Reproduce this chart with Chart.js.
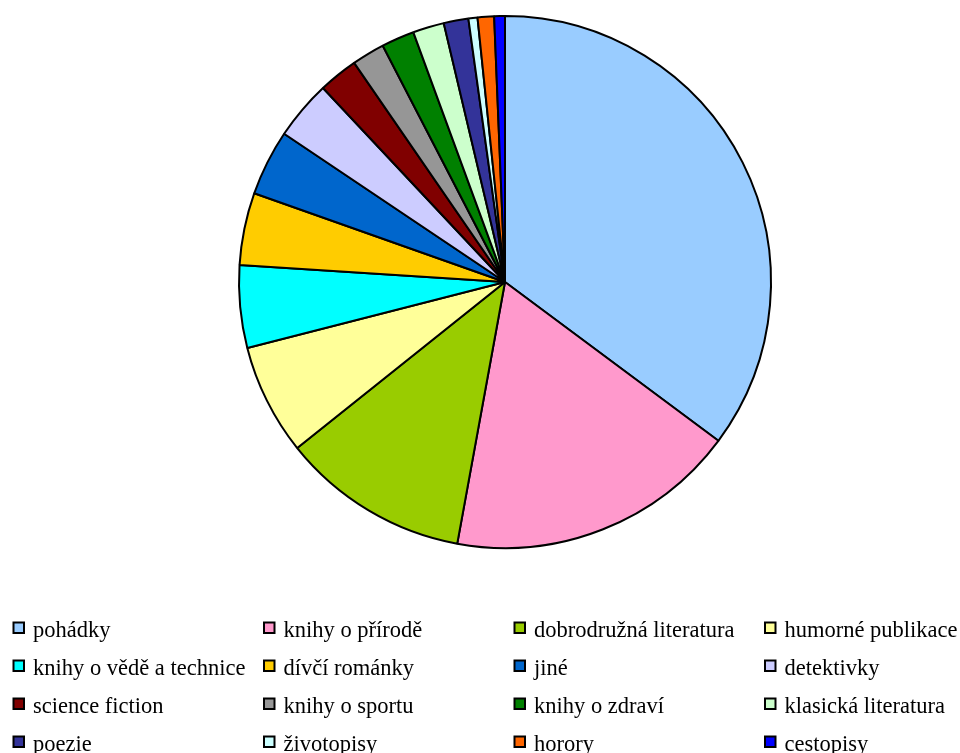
<!DOCTYPE html>
<html>
<head>
<meta charset="utf-8">
<script src="https://cdn.jsdelivr.net/npm/chart.js@4.4.1/dist/chart.umd.min.js"></script>
</head>
<body style="margin:0;padding:0;background:#fff;width:960px;height:753px;overflow:hidden;">
<div style="position:relative;width:960px;height:753px;"><canvas id="c"></canvas></div>
<script>
const categories = ["pohádky", "knihy o přírodě", "dobrodružná literatura", "humorné publikace",
  "knihy o vědě a technice", "dívčí románky", "jiné", "detektivky",
  "science fiction", "knihy o sportu", "knihy o zdraví", "klasická literatura",
  "poezie", "životopisy", "horory", "cestopisy"];
const values = [35.2, 17.7, 11.4, 6.75, 5.0, 4.4, 4.0, 3.6, 2.4, 2.0, 2.0, 1.9, 1.5, 0.55, 1.0, 0.65];
const colors = ["#99CCFF", "#FF99CC", "#99CC00", "#FFFF99", "#00FFFF", "#FFCC00", "#0066CC", "#CCCCFF",
  "#800000", "#969696", "#008000", "#CCFFCC", "#333399", "#CCFFFF", "#FF6600", "#0000FF"];

const gridLegend = {
  id: 'gridLegend',
  afterDraw(chart) {
    const ctx = chart.ctx;
    const labels = chart.data.labels;
    const bg = chart.data.datasets[0].backgroundColor;
    ctx.save();
    ctx.font = "22.5px 'Liberation Serif', serif";
    ctx.textBaseline = 'alphabetic';
    ctx.textAlign = 'left';
    labels.forEach((name, i) => {
      const col = i % 4, row = Math.floor(i / 4);
      const x = 12.5 + col * 250.5;
      const yc = 628 + row * 38;
      ctx.fillStyle = bg[i];
      ctx.fillRect(x + 1, yc - 5.5, 10.5, 10.5);
      ctx.lineWidth = 2;
      ctx.strokeStyle = '#000';
      ctx.strokeRect(x + 1, yc - 5.5, 10.5, 10.5);
      ctx.fillStyle = '#000';
      ctx.fillText(name, x + 20.5, yc + 8.7);
    });
    ctx.restore();
  }
};

new Chart(document.getElementById('c'), {
  type: 'pie',
  data: {
    labels: categories,
    datasets: [{ data: values, backgroundColor: colors, borderColor: '#000', borderWidth: 2, hoverOffset: 0 }]
  },
  options: {
    responsive: true,
    maintainAspectRatio: false,
    animation: false,
    layout: { padding: { top: 15, bottom: 204, left: 50, right: 0 } },
    plugins: { legend: { display: false }, tooltip: { enabled: false } }
  },
  plugins: [gridLegend]
});
</script>
</body>
</html>
